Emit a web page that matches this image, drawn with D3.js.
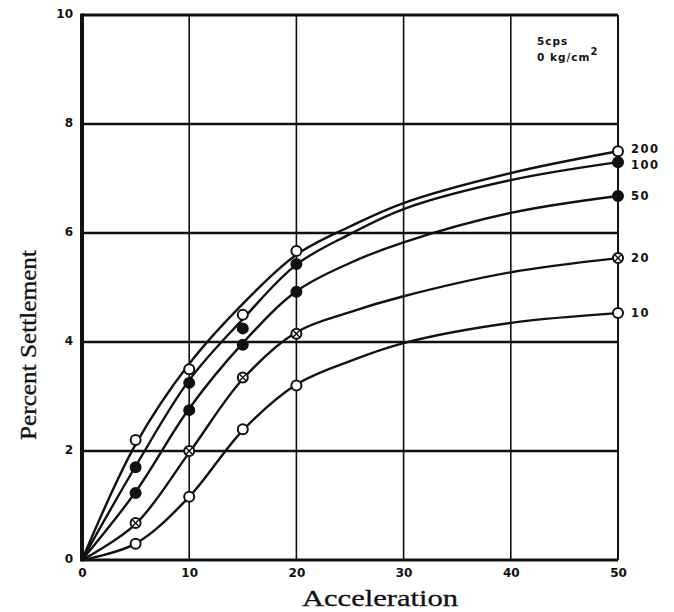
<!DOCTYPE html>
<html>
<head>
<meta charset="utf-8">
<script src="https://cdn.jsdelivr.net/npm/d3@7"></script>
<style>
  html, body { margin: 0; padding: 0; background: #fff; }
  svg { display: block; }
</style>
</head>
<body>
<svg id="chart" width="674" height="612"></svg>
<script>
// ---- data ----
const curveX    = [0, 5, 10, 15, 20, 25, 30, 40, 50];
const measuredX = [5, 10, 15, 20, 50];
const seriesNames = ["200", "100", "50", "20", "10"];

const curve200 = [0, 2.12, 3.6, 4.7, 5.6, 6.12, 6.55, 7.1, 7.5];
const curve100 = [0, 1.72, 3.3, 4.42, 5.42, 5.98, 6.44, 6.97, 7.3];
const curve50  = [0, 1.25, 2.78, 3.98, 4.93, 5.45, 5.83, 6.37, 6.68];
const curve20  = [0, 0.66, 1.97, 3.32, 4.18, 4.55, 4.84, 5.28, 5.54];
const curve10  = [0, 0.3, 1.16, 2.38, 3.22, 3.65, 3.98, 4.35, 4.53];

const points200 = [2.2, 3.5, 4.5, 5.67, 7.5];
const points100 = [1.7, 3.25, 4.25, 5.43, 7.3];
const points50  = [1.23, 2.75, 3.95, 4.92, 6.68];
const points20  = [0.68, 2.0, 3.35, 4.15, 5.54];
const points10  = [0.3, 1.16, 2.4, 3.2, 4.53];

const xTicks = [0, 10, 20, 30, 40, 50];
const yTicks = [0, 2, 4, 6, 8, 10];
const xTitle = "Acceleration";
const yTitle = "Percent Settlement";
const noteLine1 = "5cps";
const noteLine2 = "0 kg/cm";

// ---- layout ----
const svg = d3.select("#chart");
const L = 82, R = 618, T = 15, B = 560;
const x = d3.scaleLinear().domain([0, 50]).range([L, R]);
const y = d3.scaleLinear().domain([0, 10]).range([B, T]);

const curves = [curve200, curve100, curve50, curve20, curve10];
const points = [points200, points100, points50, points20, points10];
const markerStyle = ["open", "filled", "filled", "crossed", "open"];

svg.append("rect").attr("width", 674).attr("height", 612).attr("fill", "#fff");

// grid
const g = svg.append("g");
g.selectAll("line.h").data(yTicks.filter(d => d > 0 && d < 10)).join("line")
  .attr("x1", L).attr("x2", R).attr("y1", d => y(d)).attr("y2", d => y(d))
  .attr("stroke", "#111").attr("stroke-width", 2.6);
g.selectAll("line.v").data(xTicks.filter(d => d > 0 && d < 50)).join("line")
  .attr("y1", T).attr("y2", B).attr("x1", d => x(d)).attr("x2", d => x(d))
  .attr("stroke", "#111").attr("stroke-width", 1.6);

// frame
g.append("line").attr("x1", L).attr("x2", L).attr("y1", T - 1.5).attr("y2", B + 1.5).attr("stroke", "#111").attr("stroke-width", 4);
g.append("line").attr("x1", L).attr("x2", R).attr("y1", T).attr("y2", T).attr("stroke", "#111").attr("stroke-width", 3);
g.append("line").attr("x1", L).attr("x2", R).attr("y1", B).attr("y2", B).attr("stroke", "#111").attr("stroke-width", 3.2);
g.append("line").attr("x1", R).attr("x2", R).attr("y1", T).attr("y2", B).attr("stroke", "#111").attr("stroke-width", 2);

// axes tick labels via d3 axes (no tick lines)
const xAxis = d3.axisBottom(x).tickValues(xTicks).tickSize(0).tickPadding(8).tickFormat(d3.format("d"));
const yAxis = d3.axisLeft(y).tickValues(yTicks).tickSize(0).tickPadding(9).tickFormat(d3.format("d"));
const gx = svg.append("g").attr("transform", `translate(0,${B})`).call(xAxis);
const gy = svg.append("g").attr("transform", `translate(${L},0)`).call(yAxis);
[gx, gy].forEach(a => {
  a.select(".domain").remove();
  a.selectAll("text").attr("font-family", "'DejaVu Sans', sans-serif")
    .attr("font-weight", "bold").attr("font-size", 12).attr("fill", "#111");
});
gy.selectAll("text").attr("dy", "0.2em");

// curves
const line = d3.line().x((d, i) => x(curveX[i])).y(d => y(d)).curve(d3.curveCatmullRom.alpha(0.5));
svg.append("g").selectAll("path").data(curves).join("path")
  .attr("d", d => line(d)).attr("fill", "none")
  .attr("stroke", "#111").attr("stroke-width", 2.4);

// markers
const r = 5;
points.forEach((vals, si) => {
  const style = markerStyle[si];
  const mg = svg.append("g");
  vals.forEach((v, i) => {
    const cx = x(measuredX[i]), cy = y(v);
    mg.append("circle").attr("cx", cx).attr("cy", cy).attr("r", r)
      .attr("fill", style === "filled" ? "#111" : "#fff")
      .attr("stroke", "#111").attr("stroke-width", 2);
    if (style === "crossed") {
      mg.append("line").attr("x1", cx - r * 0.7).attr("x2", cx + r * 0.7)
        .attr("y1", cy + r * 0.7).attr("y2", cy - r * 0.7)
        .attr("stroke", "#111").attr("stroke-width", 1.4);
      mg.append("line").attr("x1", cx - r * 0.7).attr("x2", cx + r * 0.7)
        .attr("y1", cy - r * 0.7).attr("y2", cy + r * 0.7)
        .attr("stroke", "#111").attr("stroke-width", 1.4);
    }
  });
});

// series labels at right
svg.append("g").selectAll("text").data(seriesNames).join("text")
  .attr("x", 631)
  .attr("y", (d, i) => y(points[i][points[i].length - 1]) + 4 + (i === 0 ? -2 : i === 1 ? 3 : 0))
  .attr("font-family", "'DejaVu Sans', sans-serif").attr("font-weight", "bold")
  .attr("font-size", 11.5).attr("letter-spacing", 1.5).attr("fill", "#111")
  .text(d => d);

// note in top-right cell
const note = svg.append("text").attr("font-family", "'DejaVu Sans', sans-serif")
  .attr("font-weight", "bold").attr("font-size", 10.5).attr("fill", "#111")
  .attr("letter-spacing", 1);
note.append("tspan").attr("x", 537).attr("y", 45).text(noteLine1);
const t2 = svg.append("text").attr("font-family", "'DejaVu Sans', sans-serif")
  .attr("font-weight", "bold").attr("font-size", 10.5).attr("fill", "#111")
  .attr("letter-spacing", 1).attr("x", 537).attr("y", 61);
t2.append("tspan").text(noteLine2);
t2.append("tspan").attr("dy", -6).attr("font-size", 10).text("2");

// axis titles
svg.append("text").attr("x", 380).attr("y", 606).attr("text-anchor", "middle")
  .attr("font-family", "'Liberation Serif', 'Times New Roman', serif")
  .attr("font-size", 23).attr("fill", "#111")
  .attr("stroke", "#111").attr("stroke-width", 0.3)
  .attr("textLength", 156).attr("lengthAdjust", "spacingAndGlyphs")
  .text(xTitle);
svg.append("text").attr("transform", "translate(36,345) rotate(-90)")
  .attr("text-anchor", "middle")
  .attr("font-family", "'Liberation Serif', 'Times New Roman', serif")
  .attr("font-size", 23).attr("fill", "#111")
  .attr("stroke", "#111").attr("stroke-width", 0.3)
  .attr("textLength", 190).attr("lengthAdjust", "spacingAndGlyphs")
  .text(yTitle);
</script>
</body>
</html>
